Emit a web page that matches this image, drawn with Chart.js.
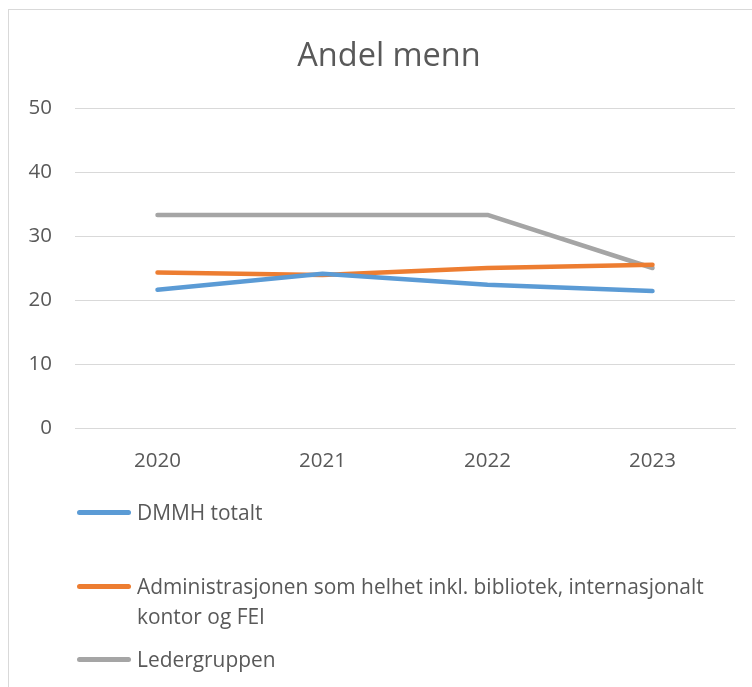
<!DOCTYPE html>
<html><head><meta charset="utf-8">
<script src="https://cdn.jsdelivr.net/npm/chart.js@4/dist/chart.umd.min.js"></script>
<style>
html,body{margin:0;padding:0;background:#fff;overflow:hidden;width:752px;height:687px;}
#frame{position:absolute;left:8px;top:9px;width:900px;height:900px;border:1px solid #d9d9d9;box-sizing:border-box;}
#c{position:absolute;left:0;top:0;}
#legend{position:absolute;left:77px;top:0;width:660px;font-family:"Open Sans",sans-serif;font-size:20.9px;color:#595959;}
.item{position:absolute;left:0;display:flex;align-items:flex-start;}
.sw{width:54px;height:5px;border-radius:3px;margin-right:6px;flex:none;}
.txt{line-height:30px;width:600px;}
</style></head>
<body>
<div id="frame"></div>
<canvas id="c" width="752" height="687"></canvas>
<div id="legend"></div>
<script>
const categories = ["2020","2021","2022","2023"];
const dmmhTotalt = [21.6, 24.1, 22.4, 21.4];
const administrasjonen = [24.3, 23.9, 25.0, 25.5];
const ledergruppen = [33.3, 33.3, 33.3, 25.0];
const seriesNames = ["DMMH totalt","Administrasjonen som helhet inkl. bibliotek, internasjonalt kontor og FEI","Ledergruppen"];
const seriesColors = ["#5b9bd5","#ed7d31","#a5a5a5"];
const yTicks = [0,10,20,30,40,50];
const titleText = "Andel menn";

const FONT = '"Open Sans", sans-serif';
const allData = [dmmhTotalt, administrasjonen, ledergruppen];
const shiftTitle = {
  id: 'shiftTitle',
  afterLayout(chart) { if (chart.titleBlock) { chart.titleBlock.left = 43; } }
};
new Chart(document.getElementById('c'), {
  type: 'line',
  data: {
    labels: categories,
    datasets: allData.map((d,i)=>({
      label: seriesNames[i], data: d, borderColor: seriesColors[i], backgroundColor: seriesColors[i],
      borderWidth: 4.5, pointRadius: 0, borderCapStyle: 'round', borderJoinStyle: 'round', tension: 0
    }))
  },
  plugins: [shiftTitle],
  options: {
    responsive: false, animation: false, devicePixelRatio: 1,
    layout: { padding: { left: 8, right: 17, top: 37, bottom: 193 } },
    plugins: {
      legend: { display: false },
      tooltip: { enabled: false },
      title: { display: true, text: titleText, color: '#595959', font: { family: FONT, size: 32.5, weight: 'normal' }, padding: { top: 0, bottom: 32 } }
    },
    scales: {
      x: {
        offset: true,
        grid: { display: false, drawTicks: false },
        border: { color: '#d9d9d9', width: 1 },
        ticks: { color: '#595959', font: { family: FONT, size: 20.5 }, padding: 20.7 }
      },
      y: {
        min: 0, max: 50,
        afterBuildTicks: s => { s.ticks = yTicks.map(v=>({value:v})); },
        afterFit: s => { s.width = 67; },
        grid: { color: '#d9d9d9', drawTicks: false, lineWidth: 1 },
        border: { display: false },
        ticks: { color: '#595959', font: { family: FONT, size: 20.5 }, padding: 23 }
      }
    }
  }
});

const leg = document.getElementById('legend');
const tops = [497, 571, 644];
seriesNames.forEach((n,i)=>{
  const it = document.createElement('div'); it.className='item'; it.style.top = tops[i]+'px';
  const sw = document.createElement('div'); sw.className='sw'; sw.style.background = seriesColors[i]; sw.style.marginTop='13px';
  const t = document.createElement('div'); t.className='txt'; t.textContent = n;
  it.appendChild(sw); it.appendChild(t); leg.appendChild(it);
});
</script>
</body></html>
